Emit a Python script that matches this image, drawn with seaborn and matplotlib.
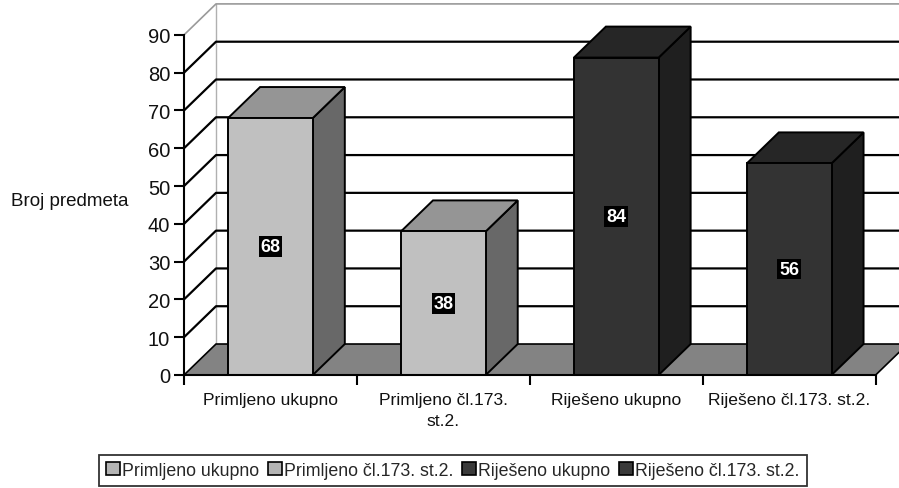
import matplotlib
matplotlib.use('Agg')
import matplotlib.pyplot as plt
from matplotlib.patches import Polygon, Patch
import numpy as np
import seaborn as sns

categories = ['Primljeno ukupno', 'Primljeno čl.173. st.2.', 'Riješeno ukupno', 'Riješeno čl.173. st.2.']
tick_labels = ['Primljeno ukupno', 'Primljeno čl.173.\nst.2.', 'Riješeno ukupno', 'Riješeno čl.173. st.2.']
values = [68, 38, 84, 56]
y_ticks = [0, 10, 20, 30, 40, 50, 60, 70, 80, 90]

# colours: front / side / top of each 3d bar
front_colors = ['#c0c0c0', '#c0c0c0', '#333333', '#333333']
side_colors = ['#686868', '#686868', '#1f1f1f', '#1f1f1f']
top_colors = ['#959595', '#959595', '#262626', '#262626']
floor_color = '#838383'

# depth of the fake 3d box in data units
DX = 0.185
DY = 8.2


def main():
    sns.set_theme(style='white')
    plt.rcParams['font.family'] = ['Liberation Sans', 'DejaVu Sans']

    fig = plt.figure(figsize=(8.99, 4.89), dpi=100)
    ax = fig.add_axes([184 / 899, 113 / 489, 715 / 899, 376 / 489])

    # front faces of the bars
    sns.barplot(x=categories, y=values, hue=categories, palette=front_colors,
                width=0.49, edgecolor='black', linewidth=1.4, legend=False,
                ax=ax, zorder=5)

    x0 = -0.5
    x1 = len(categories) - 0.5

    # floor
    ax.add_patch(Polygon([(x0, 0), (x1, 0), (x1 + DX, DY), (x0 + DX, DY)],
                         closed=True, facecolor=floor_color, edgecolor='black',
                         linewidth=1.2, zorder=1, clip_on=True))

    # side wall diagonals + back wall gridlines
    for v in y_ticks[1:-1]:
        ax.plot([x0, x0 + DX, 10], [v, v + DY, v + DY], color='black', lw=1.6, zorder=0.8)
    top = y_ticks[-1]
    ax.plot([x0, x0 + DX, 10], [top, top + DY, top + DY], color='#9a9a9a', lw=1.2, zorder=0.8)
    ax.plot([x0 + DX, x0 + DX], [DY, top + DY], color='#b0b0b0', lw=1.0, zorder=0.7)

    # sides and tops of the bars
    for i, p in enumerate(ax.patches[:len(values)]):
        bx = p.get_x()
        bw = p.get_width()
        h = p.get_height()
        side = [(bx + bw, 0), (bx + bw + DX, DY), (bx + bw + DX, h + DY), (bx + bw, h)]
        lid = [(bx, h), (bx + DX, h + DY), (bx + bw + DX, h + DY), (bx + bw, h)]
        ax.add_patch(Polygon(side, closed=True, facecolor=side_colors[i],
                             edgecolor='black', linewidth=1.4, zorder=4))
        ax.add_patch(Polygon(lid, closed=True, facecolor=top_colors[i],
                             edgecolor='black', linewidth=1.4, zorder=4))
        ax.text(bx + bw / 2, h / 2, str(values[i]), ha='center', va='center',
                color='white', fontsize=13, fontweight='bold', zorder=6,
                bbox=dict(boxstyle='square,pad=0.1', facecolor='black', edgecolor='none'))

    ax.set_xlim(x0, 3.635)
    ax.set_ylim(0, 99.5)

    # axes
    for s in ['top', 'right']:
        ax.spines[s].set_visible(False)
    ax.spines['left'].set_bounds(0, top)
    ax.spines['bottom'].set_bounds(x0, x1)
    for s in ['left', 'bottom']:
        ax.spines[s].set_color('black')
        ax.spines[s].set_linewidth(1.5)
        ax.spines[s].set_zorder(7)

    ax.set_yticks(y_ticks)
    ax.set_yticklabels([str(v) for v in y_ticks], fontsize=14.5, color='#111111')
    ax.set_xticks(np.arange(x0, x1 + 0.01, 1.0))
    ax.set_xticklabels([])
    ax.set_xticks(np.arange(len(categories)), minor=True)
    ax.set_xticklabels(tick_labels, minor=True, fontsize=12.6, color='#111111',
                       linespacing=1.55)
    ax.tick_params(axis='y', which='major', left=True, length=7, width=1.5, color='black', pad=3)
    ax.tick_params(axis='x', which='major', bottom=True, length=7, width=1.5, color='black')
    ax.tick_params(axis='x', which='minor', bottom=True, length=0, pad=12)
    ax.set_xlabel('')
    ax.set_ylabel('')
    ax.grid(False)

    fig.text(70 / 899, 1 - 202 / 489, 'Broj predmeta', ha='center', va='center',
             fontsize=13.5, color='#111111')

    handles = [Patch(facecolor=c, edgecolor='black', linewidth=1.2) for c in
               ['#b4b4b4', '#b4b4b4', '#3a3a3a', '#3a3a3a']]
    leg = fig.legend(handles, categories, loc='upper center', ncol=4,
                     bbox_to_anchor=(453 / 899, 1 - 456 / 489), fontsize=12.8,
                     frameon=True, fancybox=False, edgecolor='black',
                     handlelength=0.75, handleheight=0.75, handletextpad=0.15,
                     columnspacing=0.5, borderpad=0.4, borderaxespad=0)
    leg.get_frame().set_linewidth(1.3)

    fig.savefig('out.png', dpi=100)


if __name__ == '__main__':
    main()
